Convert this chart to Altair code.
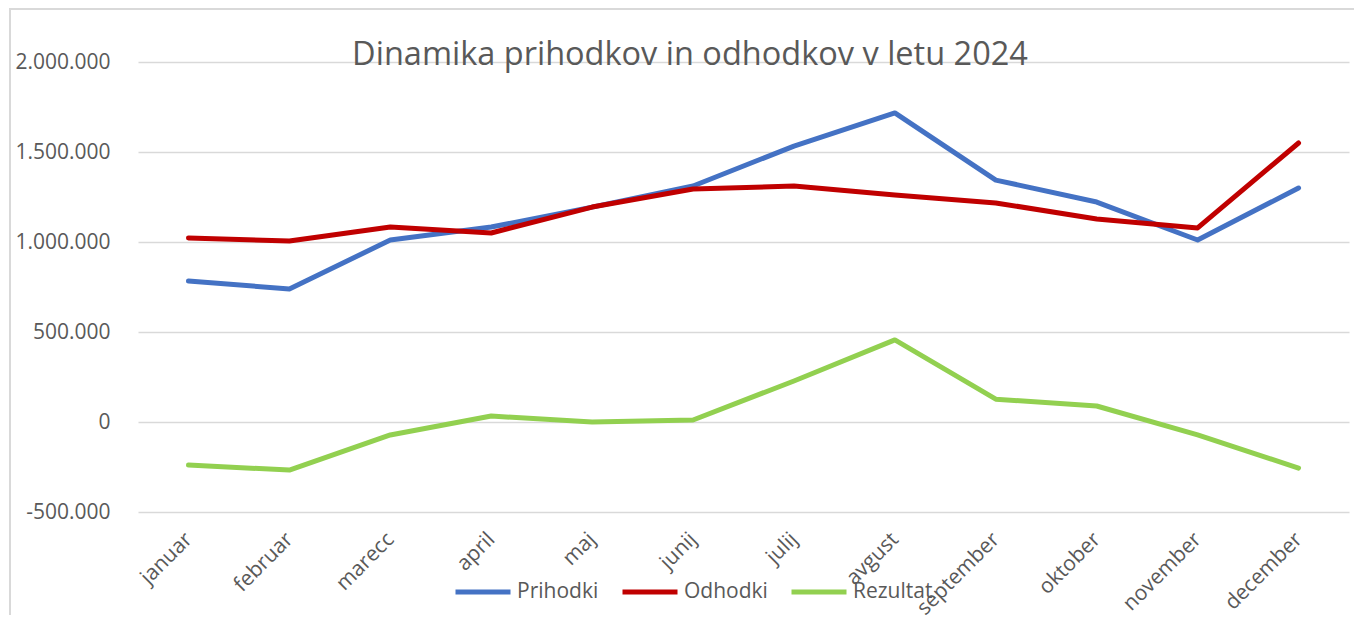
import altair as alt
import pandas as pd

months = ["januar", "februar", "marecc", "april", "maj", "junij", "julij",
          "avgust", "september", "oktober", "november", "december"]
prihodki = [783000, 739000, 1011000, 1083000, 1194000, 1311000, 1533000,
            1717000, 1344000, 1222000, 1011000, 1300000]
odhodki = [1022000, 1006000, 1083000, 1050000, 1194000, 1294000, 1311000,
           1261000, 1217000, 1128000, 1078000, 1550000]
rezultat = [-239000, -267000, -72000, 33000, 0, 11000, 228000,
            456000, 127000, 89000, -72000, -256000]
series = ["Prihodki", "Odhodki", "Rezultat"]
colors = ["#4472C4", "#C00000", "#92D050"]
y_ticks = [-500000, 0, 500000, 1000000, 1500000, 2000000]
title_text = "Dinamika prihodkov in odhodkov v letu 2024"

rows = []
for name, vals in zip(series, [prihodki, odhodki, rezultat]):
    for m, v in zip(months, vals):
        rows.append({"mesec": m, "vrednost": v, "serija": name})
df = pd.DataFrame(rows)

FONT = "Open Sans"
GREY = "#595959"
FS = 21

lines = alt.Chart(df).mark_line(strokeWidth=5, strokeCap="round", strokeJoin="round").encode(
    x=alt.X("mesec:N", sort=months, title=None,
            axis=alt.Axis(labelAngle=-45, labelAlign="right", labelBaseline="middle",
                          labelPadding=24, ticks=False, domain=False, grid=False,
                          labelFont=FONT, labelFontSize=FS, labelColor=GREY)),
    y=alt.Y("vrednost:Q", title=None,
            scale=alt.Scale(domain=[-500000, 2000000], nice=False),
            axis=alt.Axis(values=y_ticks, ticks=False, domain=False,
                          labelPadding=28, labelFont=FONT, labelFontSize=FS, labelColor=GREY,
                          gridColor="#D9D9D9", gridWidth=1.3,
                          labelExpr="replace(replace(format(datum.value, ','), /,/g, '.'), '\u2212', '-')")),
    color=alt.Color("serija:N", sort=series,
                    scale=alt.Scale(domain=series, range=colors),
                    legend=alt.Legend(title=None, orient="none", direction="horizontal",
                                      legendX=315, legendY=500,
                                      symbolType="stroke", symbolSize=3025, symbolStrokeWidth=5,
                                      labelFont=FONT, labelFontSize=FS, labelColor=GREY,
                                      labelOffset=4, columnPadding=13)),
    order=alt.Order("serija:N"),
)

frame_left = alt.Chart(df).mark_rule(color="#D9D9D9", strokeWidth=1.5).encode(
    x=alt.value(-128), y=alt.value(-54), y2=alt.value(560))
frame_top = alt.Chart(df).mark_rule(color="#D9D9D9", strokeWidth=1.5).encode(
    x=alt.value(-128), x2=alt.value(1220), y=alt.value(-53))

title = alt.Chart(pd.DataFrame({"t": [title_text]})).mark_text(
    font=FONT, fontSize=32.5, color=GREY, align="center", baseline="alphabetic"
).encode(text="t:N", x=alt.value(552), y=alt.value(3))

chart = alt.layer(frame_left, frame_top, lines, title).properties(
    width=1211, height=450,
    autosize=alt.AutoSizeParams(type="none"),
    padding={"left": 130, "top": 54, "right": 5, "bottom": 103},
).configure_view(stroke=None)

chart.save("out.html", embed_options={"renderer": "svg", "actions": False})
